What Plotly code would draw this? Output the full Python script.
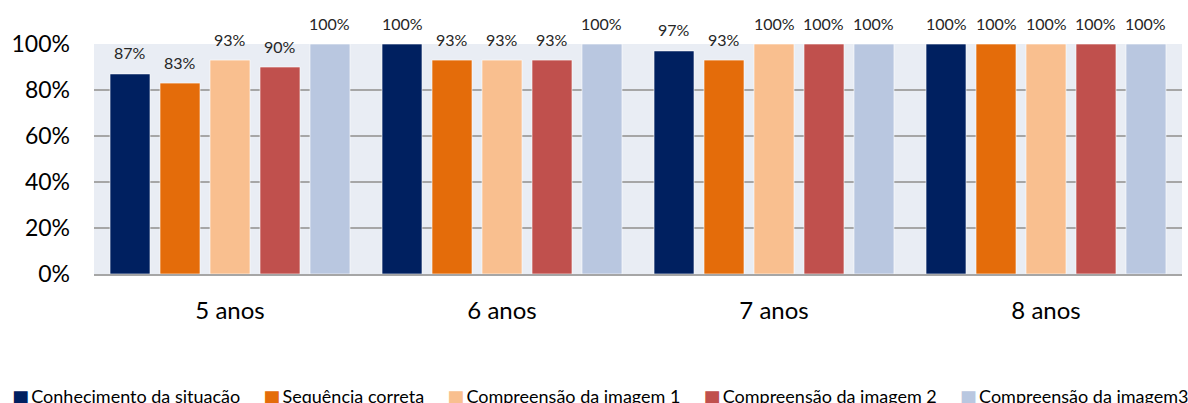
import plotly.graph_objects as go

categories = ["5 anos", "6 anos", "7 anos", "8 anos"]
series_names = ["Conhecimento da situação", "Sequência correta", "Compreensão da imagem 1",
                "Compreensão da imagem 2", "Compreensão da imagem3"]
conhecimento = [87, 100, 97, 100]
sequencia = [83, 93, 93, 100]
imagem1 = [93, 93, 100, 100]
imagem2 = [90, 93, 100, 100]
imagem3 = [100, 100, 100, 100]
series_values = [conhecimento, sequencia, imagem1, imagem2, imagem3]
colors = ["#002060", "#E46C0A", "#F9BF8F", "#C0504D", "#B9C7E0"]

W, H = 1188, 403
ml, mr, mt, mb = 94, 6, 44, 129
plot_w = W - ml - mr
plot_h = H - mt - mb
bargap = 0.081
slot_px = plot_w / len(categories) * (1 - bargap) / len(series_names)

fig = go.Figure()
for i, (name, vals, c) in enumerate(zip(series_names, series_values, colors)):
    fig.add_trace(go.Bar(
        name=name, x=categories, y=[v / 100 for v in vals],
        marker=dict(color=c, line=dict(color="rgba(255,255,255,0.6)", width=1)),
        showlegend=False,
    ))
    for cat, v in zip(categories, vals):
        fig.add_annotation(
            x=cat, y=v / 100, xref="x", yref="y", text=f"{v}%", showarrow=False,
            xshift=(i - (len(series_names) - 1) / 2) * slot_px, yshift=21,
            font=dict(size=16, color="#262626", family="Lato"),
        )

# legend row (drawn as text so the spacing matches the original)
sep = "&nbsp;" * 5
legend_text = sep.join(
    f"<span style='color:{c};font-family:DejaVu Sans'>■</span>&#8201;{n}"
    for n, c in zip(series_names, colors)
)
fig.add_annotation(
    xref="paper", yref="paper", x=(10 - ml) / plot_w, y=(274 - 396) / plot_h,
    xanchor="left", yanchor="middle", text=legend_text, showarrow=False,
    font=dict(size=18, family="Lato", color="#000000"), align="left",
)

fig.update_layout(
    width=W, height=H,
    margin=dict(l=ml, r=mr, t=mt, b=mb, autoexpand=False),
    barmode="group", bargap=bargap, bargroupgap=0.2,
    plot_bgcolor="#E9EDF4", paper_bgcolor="white",
    font=dict(family="Lato", color="#000000"),
    showlegend=False,
)
fig.update_xaxes(
    tickfont=dict(size=24, family="Lato"), showgrid=False, ticks="",
    ticklabelstandoff=14, showline=True, linecolor="#A6A6A6", linewidth=2,
    automargin=False,
)
fig.update_yaxes(
    range=[0, 1.0], tickformat=".0%", dtick=0.2,
    tickfont=dict(size=23, family="Lato"), showgrid=True, gridcolor="#A6A6A6", gridwidth=1.5,
    zeroline=False, ticklabelstandoff=23, automargin=False,
)
fig.write_html("out.html")
